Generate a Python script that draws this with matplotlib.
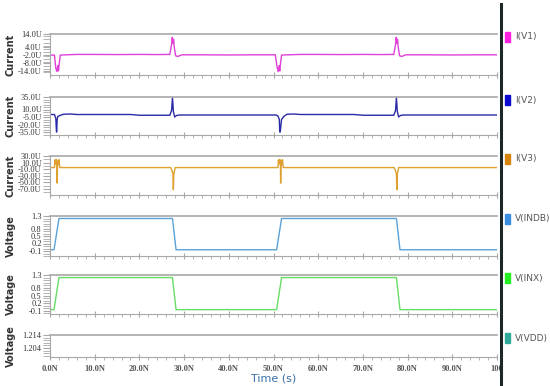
import matplotlib
matplotlib.use("Agg")
import matplotlib.pyplot as plt
from matplotlib.lines import Line2D
from matplotlib.patches import Rectangle
from matplotlib.ticker import FixedLocator, MultipleLocator

# ---------------- data (time in ns) ----------------
t_v1 = [0, 1.0, 1.3, 1.55, 1.75, 1.9, 2.05, 2.3, 3.5, 6, 10, 15, 20, 24, 26.8, 27.2, 27.35, 27.5,
        27.65, 27.8, 28.1, 28.6, 29.5, 35, 40, 45, 50.4, 50.8, 51.05, 51.25, 51.4, 51.55, 51.8,
        53.0, 56, 60, 65, 70, 74, 76.9, 77.3, 77.45, 77.6, 77.75, 77.9, 78.2, 78.7, 79.6, 85, 90, 95, 100]
i_v1 = [-2.0, -2.0, -12.0, -14.5, -10.0, -14.0, -9.0, -2.0, -1.8, -1.5, -1.5, -1.6, -1.5, -1.6, -1.5,
        6.0, 11.5, 7.0, 10.0, 4.0, -2.5, -3.0, -1.8, -1.8, -1.9, -1.8, -1.8, -11.0, -14.5, -10.0,
        -14.0, -9.0, -2.0, -1.8, -1.5, -1.5, -1.6, -1.5, -1.6, -1.5, 6.0, 11.5, 7.0, 10.0, 4.0,
        -2.5, -3.0, -1.8, -1.8, -1.9, -1.8, -1.8]

t_v2 = [0, 1.0, 1.3, 1.45, 1.5, 1.6, 1.75, 2.2, 3.0, 4.5, 6, 10, 18, 20, 26.8, 27.2, 27.4, 27.6,
        27.9, 28.3, 29, 35, 45, 50.6, 51.0, 51.3, 51.4, 51.5, 51.8, 52.3, 53.0, 54.5, 56, 60, 68,
        70, 76.9, 77.3, 77.5, 77.7, 78.0, 78.4, 79, 85, 95, 100]
i_v2 = [0, 0, -8, -35, -35, -10, -4, -2, 0.5, 1, 0, 0, 0, -1.5, -1.5, 8, 34, 6, -5, -2, -1, -1, -1,
        -1, -3, -10, -35, -35, -10, -4, 0.5, 1, 0, 0, 0, -1.5, -1.5, 8, 34, 6, -5, -2, -1, -1, -1, -1]

t_v3 = [0, 1.0, 1.1, 1.25, 1.4, 1.55, 1.6, 1.7, 1.85, 2.0, 2.2, 27.0, 27.3, 27.5, 27.6, 27.7,
        28.0, 51.0, 51.1, 51.25, 51.4, 51.55, 51.6, 51.7, 51.85, 52.0, 52.2, 77.0, 77.3, 77.5,
        77.6, 77.7, 78.0, 100]
i_v3 = [-5, -5, 18, 6, 20, 8, -52, 15, 4, 19, -5, -5, -15, -25, -72, -25, -5, -5, 18, 6, 20, 8,
        -52, 15, 4, 19, -5, -5, -15, -25, -72, -25, -5, -5]

t_sq = [0, 0.9, 2.0, 27.4, 28.2, 50.7, 51.8, 77.5, 78.3, 100]
v_indb = [-0.05, -0.05, 1.2, 1.2, -0.05, -0.05, 1.2, 1.2, -0.05, -0.05]
v_inx = [-0.05, -0.05, 1.2, 1.2, -0.05, -0.05, 1.2, 1.2, -0.05, -0.05]

x_ticks = [0, 10, 20, 30, 40, 50, 60, 70, 80, 90, 100]
x_labels = ["0.0N", "10.0N", "20.0N", "30.0N", "40.0N", "50.0N", "60.0N", "70.0N", "80.0N", "90.0N", "100"]

legend_names = ["I(V1)", "I(V2)", "I(V3)", "V(INDB)", "V(INX)", "V(VDD)"]
legend_colors = ["#ff22dd", "#0a0ad0", "#d8840c", "#3a8ee0", "#22ee22", "#30aa98"]
trace_colors = ["#e040d8", "#2a2aa8", "#e0a030", "#5aa2d8", "#66dd66", "#30aa98"]

panels = [
    dict(t=t_v1, y=i_v1, ylim=(-17.1, 14), ticks=[14, 4, -2, -8, -14],
         labels=["14.0U", "4.0U", "-2.0U", "-8.0U", "-14.0U"], ylabel="Current", minor=2.5),
    dict(t=t_v2, y=i_v2, ylim=(-41, 35), ticks=[35, 10, -5, -20, -35],
         labels=["35.0U", "10.0U", "-5.0U", "-20.0U", "-35.0U"], ylabel="Current", minor=5),
    dict(t=t_v3, y=i_v3, ylim=(-88, 30), ticks=[30, 10, -10, -30, -50, -70],
         labels=["30.0U", "10.0U", "-10.0U", "-30.0U", "-50.0U", "-70.0U"], ylabel="Current", minor=10),
    dict(t=t_sq, y=v_indb, ylim=(-0.3, 1.3), ticks=[1.3, 0.8, 0.5, 0.2, -0.1],
         labels=["1.3", "0.8", "0.5", "0.2", "-0.1"], ylabel="Voltage", minor=0.1),
    dict(t=t_sq, y=v_inx, ylim=(-0.22, 1.3), ticks=[1.3, 0.8, 0.5, 0.2, -0.1],
         labels=["1.3", "0.8", "0.5", "0.2", "-0.1"], ylabel="Voltage", minor=0.1),
    dict(t=None, y=None, ylim=(1.197, 1.214), ticks=[1.214, 1.204],
         labels=["1.214", "1.204"], ylabel="Voltage", minor=0.002),
]

# pixel extents (top, bottom) of each panel
extents = [(34, 75), (97, 135), (156, 195), (216, 256), (275, 314), (335, 357)]

W, H = 550, 386
fig = plt.figure(figsize=(W / 100, H / 100), dpi=100)
left_px, right_px = 50, 497
grid_gray = "#a8a8a8"
text_col = "#333333"
tick_font = "Liberation Serif"

for k, (p, (top, bot)) in enumerate(zip(panels, extents)):
    ax = fig.add_axes([left_px / W, 1 - bot / H, (right_px - left_px) / W, (bot - top) / H])
    if p["t"] is not None:
        ax.plot(p["t"], p["y"], color=trace_colors[k], lw=1.0)
    ax.set_xlim(0, 100)
    ax.set_ylim(*p["ylim"])
    ax.axhline(p["ylim"][1], color=grid_gray, lw=1.2, clip_on=False)
    for s in ["top", "right"]:
        ax.spines[s].set_visible(False)
    for s in ["left", "bottom"]:
        ax.spines[s].set_color(grid_gray)
        ax.spines[s].set_linewidth(0.8)
    ax.yaxis.set_major_locator(FixedLocator(p["ticks"]))
    ax.set_yticklabels(p["labels"], fontfamily=tick_font, fontsize=6)
    ax.yaxis.set_minor_locator(MultipleLocator(p["minor"]))
    ax.xaxis.set_major_locator(FixedLocator(x_ticks))
    ax.xaxis.set_minor_locator(MultipleLocator(2))
    ax.tick_params(axis="both", which="both", colors=grid_gray, labelcolor=text_col)
    ax.tick_params(axis="y", which="major", length=5, width=0.8, pad=1)
    ax.tick_params(axis="y", which="minor", length=5, width=0.6)
    ax.tick_params(axis="x", which="major", length=4, width=0.8, direction="inout")
    ax.tick_params(axis="x", which="minor", length=2, width=0.6, direction="out")
    if k == len(panels) - 1:
        ax.set_xticklabels(x_labels, fontweight="bold", fontsize=6, color="#555555",
                           fontfamily=tick_font)
        ax.tick_params(axis="x", which="major", pad=4)
        ax.set_xlabel("Time (s)", color="#3a70a8", fontsize=8, labelpad=0)
    else:
        ax.set_xticklabels([])
    fig.text(11 / W, 1 - ((top + bot) / 2) / H, p["ylabel"], rotation=90, ha="center", va="center",
             fontsize=7, fontweight="bold", color="#333333")
    # legend entry
    ly = 1 - (top + 3) / H
    fig.add_artist(Rectangle((505 / W, ly - 5 / H), 5 / W, 10 / H, transform=fig.transFigure,
                             color=legend_colors[k]))
    fig.text(515 / W, ly, legend_names[k], fontsize=6.5, va="center", ha="left", color="#555555")

fig.add_artist(Line2D([500.5 / W, 500.5 / W], [0, 1 - 4 / H], transform=fig.transFigure,
                      color="#1c2828", lw=2.2))

fig.savefig("out.png", dpi=100)
